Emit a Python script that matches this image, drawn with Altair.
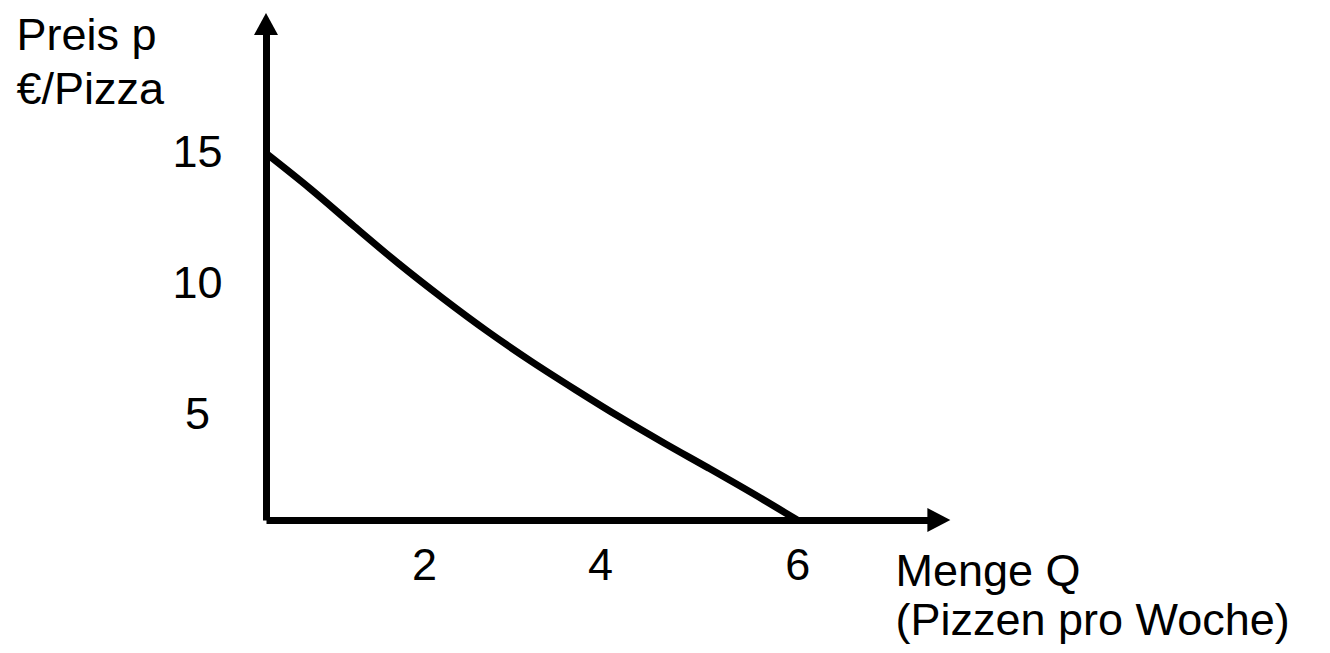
import altair as alt
import pandas as pd

# ---- data ----
q_values = [0, 0.5, 1, 1.5, 2, 2.5, 3, 3.5, 4, 4.5, 5, 5.5, 6]
p_values = [15, 13.55, 12.0, 10.48, 9.06, 7.72, 6.48, 5.32, 4.2, 3.14, 2.12, 1.08, 0]
x_ticks = [2, 4, 6]
y_ticks = [5, 10, 15]
x_title = ["Menge Q", "(Pizzen pro Woche)"]
y_title = ["Preis p", "€/Pizza"]

df = pd.DataFrame({"Q": q_values, "p": p_values})

FONT = "Liberation Sans"
FS = 45

x_scale = alt.Scale(domain=[0, 7.5], nice=False, zero=True)
y_scale = alt.Scale(domain=[0, 20], nice=False, zero=True)

x_axis = alt.Axis(
    values=x_ticks, format="d", title=x_title, ticks=False, grid=False,
    domainColor="black", domainWidth=7,
    labelFont=FONT, labelFontSize=FS, labelColor="black",
    labelAlign="center", labelBaseline="top", labelPadding=23,
    labelFlush=False, labelOverlap=False,
    labelOffset={"condition": [{"test": "datum.value == 2", "value": -19},
                               {"test": "datum.value == 4", "value": -20}],
                 "value": 0},
    titleFont=FONT, titleFontSize=FS, titleFontWeight="normal", titleColor="black",
    titleAngle=0, titleAlign="left", titleBaseline="alphabetic",
    titleX=629, titleY=65, titleLineHeight=49,
)

y_axis = alt.Axis(
    values=y_ticks, format="d", title=y_title, ticks=False, grid=False,
    domainColor="black", domainWidth=7,
    labelFont=FONT, labelFontSize=FS, labelColor="black",
    labelAlign="center", labelBaseline="middle", labelPadding=69,
    labelFlush=False, labelOverlap=False,
    labelOffset={"condition": [{"test": "datum.value == 10", "value": 8},
                               {"test": "datum.value == 5", "value": 17}],
                 "value": -1},
    titleFont=FONT, titleFontSize=FS, titleFontWeight="normal", titleColor="black",
    titleAngle=0, titleAlign="left", titleBaseline="alphabetic",
    titleX=-250, titleY=18, titleLineHeight=54,
)

curve = alt.Chart(df).mark_line(
    color="black", strokeWidth=7, interpolate="monotone"
).encode(
    x=alt.X("Q:Q", scale=x_scale, axis=x_axis),
    y=alt.Y("p:Q", scale=y_scale, axis=y_axis),
)

one = pd.DataFrame({"k": [0]})

arrow_up = alt.Chart(one).mark_point(
    shape="M0,-0.917L1,0.917L-1,0.917Z", size=576, filled=True,
    color="black", opacity=1, strokeWidth=0,
).encode(
    x=alt.X(datum=0, type="quantitative"),
    y=alt.Y(datum=20.29, type="quantitative"),
)

arrow_right = alt.Chart(one).mark_point(
    shape="M0.958,0L-0.958,-1L-0.958,1Z", size=576, filled=True,
    color="black", opacity=1, strokeWidth=0,
).encode(
    x=alt.X(datum=7.6, type="quantitative"),
    y=alt.Y(datum=0, type="quantitative"),
)

chart = alt.layer(curve, arrow_up, arrow_right).properties(
    width=664, height=489,
    autosize=alt.AutoSizeParams(type="none"),
    padding={"left": 258, "top": 23, "right": 390, "bottom": 124},
).configure_view(stroke=None)

chart.save("out.html", embed_options={"renderer": "svg", "actions": False})
